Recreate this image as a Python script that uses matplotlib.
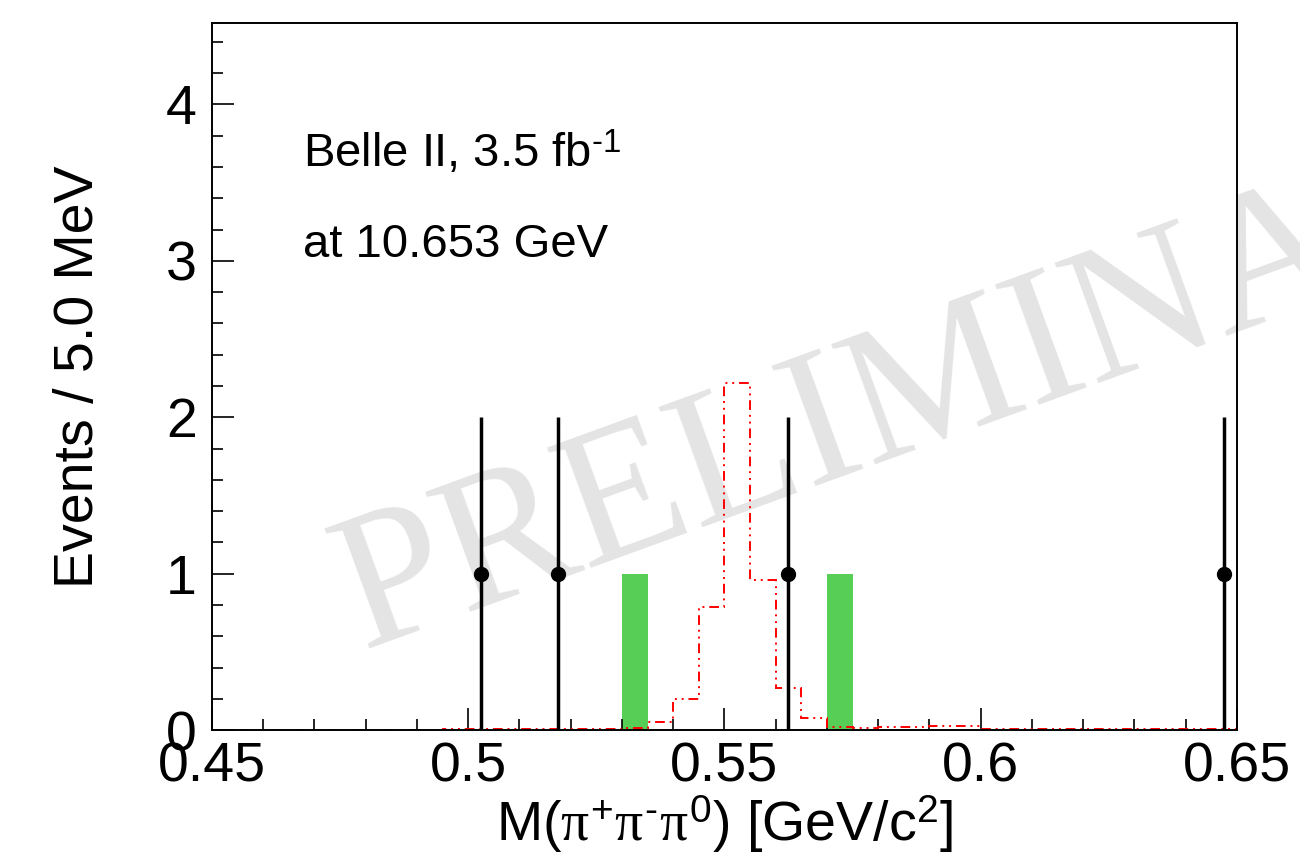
import numpy as np
import matplotlib.pyplot as plt
from matplotlib.ticker import MultipleLocator, FuncFormatter

plt.rcParams['font.family'] = ['Liberation Sans', 'DejaVu Sans']
plt.rcParams['mathtext.fontset'] = 'custom'
plt.rcParams['mathtext.rm'] = 'Liberation Sans'
plt.rcParams['mathtext.it'] = 'Liberation Serif'
plt.rcParams['mathtext.bf'] = 'Liberation Sans:bold'

# 40 bins of 5 MeV between 0.45 and 0.65 GeV
bin_edges = np.round(np.linspace(0.45, 0.65, 41), 3)

# signal MC shape (red dash-dot-dot histogram)
mc_signal = [0.0, 0.0, 0.002, 0.0, 0.002, 0.003, 0.002, 0.003, 0.004, 0.005,
             0.005, 0.006, 0.006, 0.008, 0.01, 0.01, 0.015, 0.05, 0.20, 0.79,
             2.22, 0.96, 0.27, 0.08, 0.02, 0.015, 0.02, 0.02, 0.025, 0.025,
             0.01, 0.01, 0.008, 0.008, 0.006, 0.006, 0.005, 0.005, 0.005, 0.005]

# green filled histogram
green_hist = [0, 0, 0, 0, 0, 0, 0, 0, 0, 0,
              0, 0, 0, 0, 0, 0, 1, 0, 0, 0,
              0, 0, 0, 0, 1, 0, 0, 0, 0, 0,
              0, 0, 0, 0, 0, 0, 0, 0, 0, 0]

# data points
data_x = [0.5025, 0.5175, 0.5625, 0.6475]
data_y = [1, 1, 1, 1]
data_err = [1, 1, 1, 1]

fig = plt.figure(figsize=(13, 8.56), dpi=100)
ax = fig.add_axes([0.163, 0.147, 0.7885, 0.826])

# watermark
ax.text(0.4794, 0.52, 'PRELIMINARY', fontsize=140, family='Liberation Serif',
        color='#e4e4e4', rotation=20, rotation_mode='anchor',
        ha='left', va='baseline', clip_on=False, zorder=0)

ax.stairs(green_hist, bin_edges, fill=True, color='#57cf57', zorder=1)
ax.stairs(mc_signal, bin_edges, color='red', lw=1.4,
          ls=(0, (5, 2.5, 1, 2.5, 1, 2.5)), zorder=2)
ax.errorbar(data_x, data_y, yerr=data_err, fmt='o', color='black', ms=10,
            elinewidth=2.5, capsize=0, zorder=3)

ax.set_xlim(0.45, 0.65)
ax.set_ylim(0, 4.52)
ax.xaxis.set_major_locator(MultipleLocator(0.05))
ax.xaxis.set_minor_locator(MultipleLocator(0.01))
ax.yaxis.set_major_locator(MultipleLocator(1))
ax.yaxis.set_minor_locator(MultipleLocator(0.2))
fmt = FuncFormatter(lambda v, p: '%g' % round(v, 3))
ax.xaxis.set_major_formatter(fmt)
ax.yaxis.set_major_formatter(fmt)

ax.tick_params(which='both', direction='in', top=False, right=False,
               labelsize=40, width=1.2)
ax.tick_params(which='major', length=16)
ax.tick_params(which='minor', length=8)
ax.tick_params(axis='y', pad=11)
ax.tick_params(axis='x', pad=8)
for s in ax.spines.values():
    s.set_linewidth(1.4)

ax.set_xlabel(r'M($\pi^{+}\pi^{\text{-}}\pi^{0}$) [GeV/c$^{2}$]', fontsize=40, labelpad=0)
ax.set_ylabel('Events / 5.0 MeV', fontsize=40, labelpad=44)

ax.text(0.0888, 0.796, r'Belle II, 3.5 fb$^{\text{-}1}$', fontsize=34,
        transform=ax.transAxes)
ax.text(0.0888, 0.669, 'at 10.653 GeV', fontsize=34, transform=ax.transAxes)

fig.savefig('out.png', dpi=100)
